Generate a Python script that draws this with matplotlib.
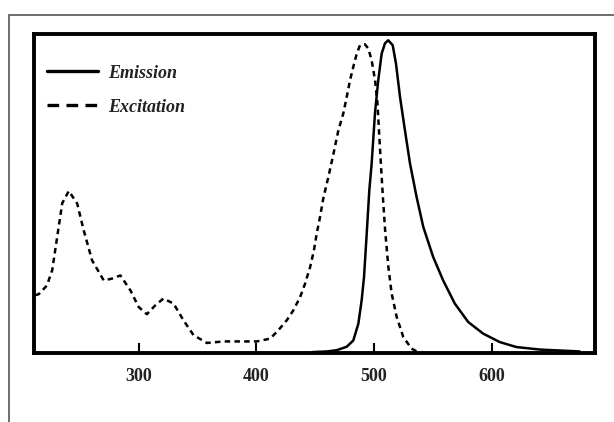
import matplotlib
matplotlib.use("Agg")
import matplotlib.pyplot as plt
from matplotlib.patches import Rectangle

# Excitation spectrum (normalised intensity)
exc_wl = [212, 215, 222, 226.5, 230.7, 235, 240.6, 247.7, 253.3, 260.4, 270.3,
          277.4, 284.5, 293, 300, 307, 314, 321, 329.7, 338, 346.7, 358, 372,
          383.5, 400.5, 411.8, 418.8, 426, 431.6, 437.3, 441.5, 445.8, 449,
          451.4, 454.2, 457, 461.3, 465.5, 469.8, 474, 476.9, 479.7, 482.5,
          485.4, 488.2, 492.4, 495.3, 498.1, 501, 503, 504.5, 506, 507.8,
          509.6, 512.3, 515.1, 519.4, 525, 532, 539]
exc_val = [0.185, 0.188, 0.216, 0.265, 0.371, 0.479, 0.518, 0.478, 0.392, 0.296,
           0.232, 0.238, 0.248, 0.200, 0.147, 0.124, 0.152, 0.174, 0.158, 0.105,
           0.057, 0.032, 0.037, 0.037, 0.037, 0.046, 0.073, 0.105, 0.137, 0.179,
           0.222, 0.275, 0.328, 0.382, 0.435, 0.495, 0.563, 0.635, 0.712, 0.766,
           0.819, 0.872, 0.915, 0.957, 0.984, 0.987, 0.973, 0.936, 0.872, 0.800,
           0.700, 0.600, 0.490, 0.390, 0.275, 0.190, 0.115, 0.051, 0.014, 0.0]

# Emission spectrum (normalised intensity)
emi_wl = [448, 460, 468.4, 476.9, 482.5, 486.8, 489.6, 491.6, 493.9, 496.1,
          498.1, 500.9, 503.7, 506.6, 509.4, 512.2, 516, 518.8, 522.2, 526.4,
          530.7, 536.3, 542, 550.4, 558.9, 568.8, 580.2, 592.9, 607, 621.2,
          641, 663.7, 675]
emi_val = [0.003, 0.005, 0.009, 0.020, 0.040, 0.094, 0.169, 0.243, 0.382, 0.520,
           0.606, 0.766, 0.872, 0.957, 0.990, 1.000, 0.984, 0.925, 0.819, 0.712,
           0.606, 0.499, 0.403, 0.307, 0.232, 0.158, 0.099, 0.062, 0.035, 0.019,
           0.011, 0.007, 0.005]

xticks = [300, 400, 500, 600]
labels = ["Emission", "Excitation"]

fig = plt.figure(figsize=(6.14, 4.22), dpi=100)
fig.patch.set_facecolor("white")

# outer frame
fig.add_artist(Rectangle((8.5 / 614, -0.05), 1.2, (1 - 14.5 / 422) + 0.05,
                         transform=fig.transFigure, fill=False,
                         edgecolor="#555555", linewidth=1.2, clip_on=False))

ax = fig.add_axes([34 / 614, 1 - 353 / 422, (595 - 34) / 614, (353 - 34) / 422])
ax.plot(emi_wl, emi_val, color="black", lw=1.8, solid_capstyle="round",
        label=labels[0])
ax.plot(exc_wl, exc_val, color="black", lw=1.8, linestyle=(0, (2.2, 1.7)),
        label=labels[1])

ax.set_xlim(211, 688)
ax.set_ylim(0, 1.02)
ax.set_yticks([])
ax.set_xticks(xticks)
ax.set_xticklabels([str(t) for t in xticks])
ax.tick_params(axis="x", direction="in", length=7, width=1.5, pad=11,
               colors="black", labelcolor="#222222")
for lab in ax.get_xticklabels():
    lab.set_fontfamily("Liberation Serif")
    lab.set_fontweight("bold")
    lab.set_fontsize(13)
for sp in ax.spines.values():
    sp.set_linewidth(2.8)
    sp.set_color("black")

leg = ax.legend(loc="upper left", bbox_to_anchor=(0.0226, 0.904), frameon=False,
                prop={"family": "Liberation Serif", "weight": "bold",
                      "style": "italic", "size": 13},
                handlelength=2.83, handletextpad=0.55, labelspacing=0.95,
                borderpad=0, borderaxespad=0)
hl = leg.get_lines()
hl[0].set_linewidth(2.4)
hl[1].set_linewidth(2.4)
hl[1].set_linestyle((0, (3.5, 2.2)))
for t in leg.get_texts():
    t.set_color("#222222")

fig.savefig("out.png", dpi=100, facecolor="white")
